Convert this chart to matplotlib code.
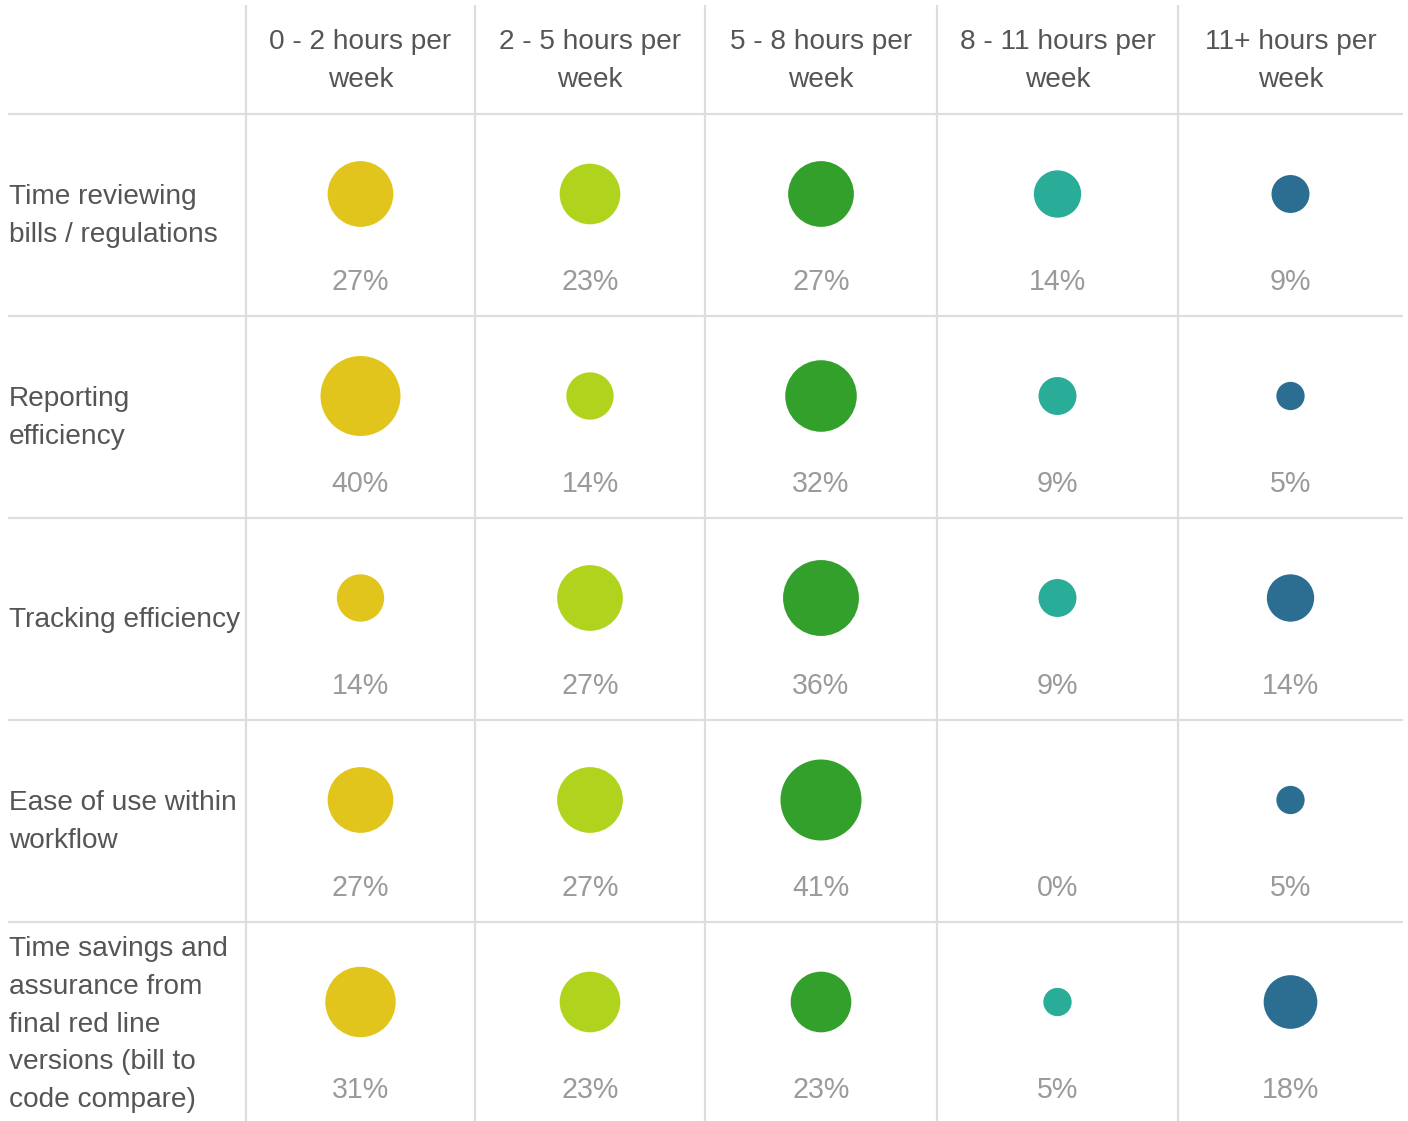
import numpy as np
import matplotlib
matplotlib.use("Agg")
import matplotlib.pyplot as plt
from matplotlib.patches import Circle

columns = ["0 - 2 hours per\nweek", "2 - 5 hours per\nweek", "5 - 8 hours per\nweek",
           "8 - 11 hours per\nweek", "11+ hours per\nweek"]
rows = ["Time reviewing\nbills / regulations",
        "Reporting\nefficiency",
        "Tracking efficiency",
        "Ease of use within\nworkflow",
        "Time savings and\nassurance from\nfinal red line\nversions (bill to\ncode compare)"]
values = [
    [27, 23, 27, 14, 9],
    [40, 14, 32, 9, 5],
    [14, 27, 36, 9, 14],
    [27, 27, 41, 0, 5],
    [31, 23, 23, 5, 18],
]
colors = ["#E2C51C", "#B0D41E", "#32A02B", "#2AAD98", "#2C6E92"]

W, H = 1408, 1121
fig = plt.figure(figsize=(W / 100, H / 100), dpi=100)
ax = fig.add_axes([0, 0, 1, 1])
ax.set_xlim(0, W)
ax.set_ylim(H, 0)
ax.set_aspect("equal")
ax.axis("off")

font = "Liberation Sans"
fs = 20.2
fs_pct = 20.6
grid = "#DDDDDD"
label_c = "#555555"
pct_c = "#9A9A9A"

col_edges = [246, 475, 705, 937, 1178, 1403]
row_edges = [114, 316, 518, 720, 922, 1124]
left = 8
top = 5
line_h = 37.75

for x in col_edges[:-1]:
    ax.plot([x, x], [top, H], color=grid, lw=1.6, solid_capstyle="butt")
for y in row_edges[:-1]:
    ax.plot([left, col_edges[-1]], [y, y], color=grid, lw=1.6, solid_capstyle="butt")

# headers
for j, c in enumerate(columns):
    cx = (col_edges[j] + col_edges[j + 1]) / 2
    lines = c.split("\n")
    for k, ln in enumerate(lines):
        ax.text(cx, 42 + k * line_h, ln, ha="center", va="center", fontsize=fs,
                family=font, color=label_c)

k_scale = 12.65 / 2  # radius px per sqrt(percent)
for i, r in enumerate(rows):
    y0, y1 = row_edges[i], row_edges[i + 1]
    cy = y0 + 80
    lines = r.split("\n")
    n = len(lines)
    mid = y0 + 102 if n < 5 else (y0 + H) / 2 + 3
    for k, ln in enumerate(lines):
        ly = mid + (k - (n - 1) / 2) * line_h
        ax.text(9, ly, ln, ha="left", va="center", fontsize=fs, family=font, color=label_c)
    for j in range(len(columns)):
        cx = (col_edges[j] + col_edges[j + 1]) / 2
        v = values[i][j]
        if v > 0:
            ax.add_patch(Circle((cx, cy), k_scale * np.sqrt(v), color=colors[j], lw=0))
        ax.text(cx, y0 + 168, f"{v}%", ha="center", va="center", fontsize=fs_pct,
                family=font, color=pct_c)

fig.savefig("out.png", dpi=100)
